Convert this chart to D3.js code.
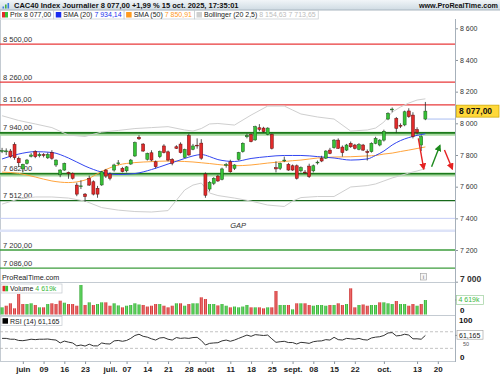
<!DOCTYPE html>
<html>
<head>
<meta charset="utf-8">
<script src="https://cdn.jsdelivr.net/npm/d3@7"></script>
<style>
  body { margin: 0; background: #fff; }
  svg { display: block; font-family: "Liberation Sans", Arial, sans-serif; }
  .lbl { font-size: 7.5px; fill: #333; }
  .pax text { font-size: 7px; fill: #333; }
  .pax line, .tax line { stroke: #8a939c; }
  .tax text { font-size: 8px; font-weight: bold; fill: #222; }
</style>
</head>
<body>
<div id="chart"></div>
<script>
// ---- data ----
var opens = [7822,7820,7825,7867,7779,7712,7747,7792,7821,7795,7803,7782,7815,7737,7675,7705,7690,7684,7610,7600,
  7553,7653,7631,7590,7611,7705,7680,7705,7745,7716,7700,7743,7794,7912,7869,7773,7814,7757,7789,7857,
  7820,7773,7852,7869,7785,7922,7836,7862,7875,7680,7585,7621,7667,7646,7735,7757,7716,7773,7821,7915,
  7930,7895,7972,7970,7930,7930,7720,7716,7765,7741,7732,7732,7700,7692,7730,7700,7750,7779,7780,7831,
  7846,7894,7850,7831,7874,7863,7836,7863,7822,7821,7874,7863,7894,8027,8085,8031,7988,7990,8078,8052,
  7960,7863,8027];
var highs = [7845,7842,7838,7880,7790,7745,7775,7812,7830,7815,7812,7815,7830,7772,7710,7752,7695,7690,7625,7640,
  7560,7670,7640,7605,7700,7712,7690,7745,7768,7725,7730,7775,7885,7925,7875,7815,7830,7765,7828,7868,
  7828,7780,7862,7880,7840,7935,7870,7905,7900,7690,7635,7660,7675,7720,7750,7770,7742,7820,7880,7935,
  7935,7985,7995,7978,7975,7935,7760,7752,7790,7750,7740,7740,7728,7705,7745,7740,7765,7795,7830,7845,
  7900,7905,7860,7870,7885,7870,7875,7870,7835,7880,7915,7900,7960,8070,8100,8040,8000,8080,8095,8070,
  7975,7925,8135];
var lows = [7812,7800,7780,7770,7725,7690,7740,7785,7780,7785,7785,7775,7770,7725,7660,7700,7650,7645,7540,7585,
  7505,7605,7545,7530,7605,7655,7640,7695,7735,7690,7690,7738,7788,7895,7820,7765,7760,7715,7780,7810,
  7760,7735,7838,7810,7780,7795,7830,7840,7770,7530,7570,7610,7630,7640,7720,7688,7705,7765,7815,7905,
  7880,7890,7950,7940,7925,7835,7690,7705,7755,7700,7700,7645,7690,7680,7655,7690,7740,7755,7775,7805,
  7840,7838,7790,7825,7845,7835,7830,7825,7765,7815,7868,7855,7885,8020,8070,7940,7970,7982,8035,7905,
  7930,7825,8020];
var closes = [7828,7826,7789,7783,7751,7741,7768,7800,7789,7803,7797,7803,7779,7768,7705,7747,7683,7653,7553,7605,
  7537,7610,7553,7553,7694,7667,7653,7737,7750,7695,7725,7768,7878,7902,7825,7810,7768,7726,7821,7815,
  7768,7748,7842,7815,7835,7800,7857,7860,7780,7546,7628,7653,7636,7712,7740,7694,7737,7815,7874,7923,
  7884,7979,7962,7947,7970,7842,7712,7747,7768,7705,7705,7653,7720,7688,7663,7732,7755,7762,7825,7810,
  7894,7842,7815,7863,7852,7842,7865,7831,7815,7874,7905,7894,7950,8063,8090,7968,7982,8073,8042,7916,
  7943,7916,8077];
var prevClose = 7734;
// volume, thousands
var volumes = [2290,2800,3570,1970,6530,3340,3340,3570,3030,2290,2290,3340,3570,3340,4400,3760,3340,3340,2800,9400,
  3030,3880,3030,3340,3880,3880,2800,3570,2900,2290,2800,3030,3570,3200,3030,2540,2800,3340,3340,2800,
  2290,2800,3570,3570,2800,3340,3570,3570,5480,4940,3340,3340,2900,3340,2800,2290,2540,2290,2540,3030,
  2290,2290,2290,1970,2290,2290,7490,3030,3030,3030,1650,3570,3570,3570,3030,2800,3030,3030,2800,3030,
  3030,3570,3030,3340,8340,2290,3030,3200,2800,3030,3030,3880,3880,3570,3340,4300,3340,3340,2800,3340,
  2800,3340,4619];
var rsi = [54,54,52,52,49,48.5,50,52,51,52,52,52.5,51,50,43,47.5,45,43,36,38,
  35.5,40,36,36,43,41,40.5,48,49,47,49,54,61,64,59,57,53,50,55,56,
  52,50,56,54,55,54,56,56.5,49,38,42,43,43.6,48,50,47,50,54,58,62,
  59,63,62,61,62,53,44.5,46,47,44,44,40.5,44.5,43.5,42,46,47.5,48,51,50,
  56.6,51,50,54,53,52,54,51,50,55,57,58,61,67,68,60,61,64,62,53,
  53,52,61.165];

// indicators, sampled at these candle indexes
var indIdx = [0,4,8,12,16,20,24,28,32,36,40,44,46,48,50,52,56,60,64,68,70,72,76,80,84,88,90,92,94,96,98,100,102];
var sma20 = [7775,7806,7821,7816,7781,7730,7692,7677,7683,7708,7743,7778,7794,7803,7790,7771,7759,7778,7790,7797,7797,7797,7790,7781,7768,7775,7797,7825,7863,7891,7910,7924,7934.14];
var sma50 = [7692,7684,7661,7636,7626,7642,7696,7737,7752,7758,7762,7759,7756,7751,7746,7740,7732,7737,7749,7759,7764,7768,7781,7787,7789,7794,7797,7806,7812,7822,7831,7841,7850.91];
var bbUp = [8048,8018,7996,7973,7926,7917,7945,7955,7967,7973,7979,7958,7951,7967,7996,7999,7989,8052,8109,8109,8084,8059,8040,8027,7951,7958,7970,8008,8071,8103,8128,8147,8154.63];
var bbLow = [7490,7522,7535,7535,7528,7509,7468,7452,7443,7440,7449,7579,7610,7623,7560,7544,7528,7509,7484,7475,7509,7531,7538,7538,7598,7607,7617,7636,7655,7670,7686,7699,7713.65];

// drawn levels
var redLevels = [8500, 8260, 8116];
var bandLevels = [7940, 7682];
var greenLevels = [7512, 7200, 7086];
var blueLevels = [7400, 7322];
var priceTicks = [8600, 8400, 8200, 8000, 7800, 7600, 7400, 7200, 7000];

// arrows: [candle index, price]
var arrowFrom = [[100.3, 7905], [103.5, 7726], [106.6, 7831]];
var arrowTo = [[101.6, 7712], [105.5, 7860], [108.5, 7712]];

var tickDays = ["2025-06-02","2025-06-09","2025-06-16","2025-06-23","2025-07-01","2025-07-07","2025-07-14","2025-07-21","2025-07-28","2025-08-01",
  "2025-08-11","2025-08-18","2025-08-25","2025-09-01","2025-09-08","2025-09-15","2025-09-22","2025-10-01","2025-10-13","2025-10-20"];
var tickNames = ["juin","09","16","23","juil.","07","14","21","28","août","11","18","25","sept.","08","15","22","oct.","13","20"];

// trading days shown on the axis (chart runs a week past the last candle)
var days = d3.timeDay.range(new Date(2025, 4, 26), new Date(2025, 9, 25))
  .filter(function(d) { return d.getDay() !== 0 && d.getDay() !== 6; });
var dayKey = d3.timeFormat("%Y-%m-%d");
var tickIdx = tickDays.map(function(s) { return days.findIndex(function(d) { return dayKey(d) === s; }); });

var loc = d3.formatLocale({decimal: ",", thousands: " ", grouping: [3], currency: ["", ""]});
var f0 = loc.format(",.0f"), f2 = loc.format(",.2f"), f3 = loc.format(",.3f");

var svg = d3.select("#chart").append("svg").attr("width", 500).attr("height", 375);
var defs = svg.append("defs");

var x = d3.scaleLinear().domain([-0.5, days.length - 0.5]).range([0, 456.5]);
var y = d3.scaleLinear().domain([7000, 8600]).range([281.7, 28.3]);
var yv = d3.scaleLinear().domain([0, 10000]).range([314.5, 283.1]);
var yr = d3.scaleLinear().domain([0, 100]).range([360.8, 319.3]);
var bw = 3;
var last = closes.length - 1;

defs.append("clipPath").attr("id", "clipMain")
  .append("rect").attr("x", 0).attr("y", 19.5).attr("width", 455).attr("height", 262.5);

// header
var hg = defs.append("linearGradient").attr("id", "hdr").attr("x1", 0).attr("y1", 0).attr("x2", 0).attr("y2", 1);
hg.append("stop").attr("offset", 0).attr("stop-color", "#f1f5f8");
hg.append("stop").attr("offset", 1).attr("stop-color", "#cfdbe3");
svg.append("rect").attr("x", 0).attr("y", 0).attr("width", 500).attr("height", 10).attr("fill", "url(#hdr)");
svg.append("line").attr("x1", 0).attr("x2", 500).attr("y1", 10).attr("y2", 10).attr("stroke", "#a9b6c0");
[[2.5, 5, "#3a7be0"], [5, 3, "#43b043"], [7.5, 1.5, "#3a7be0"]].forEach(function(b) {
  svg.append("rect").attr("x", b[0]).attr("y", 1.5 + b[1]).attr("width", 1.6).attr("height", 7 - b[1]).attr("fill", b[2]);
});
svg.append("text").attr("x", 14).attr("y", 7.9).attr("font-size", 7.5).attr("font-weight", "bold").attr("fill", "#111")
  .text("CAC40 Index Journalier 8 077,00 +1,99 % 15 oct. 2025, 17:35:01");
svg.append("text").attr("x", 498).attr("y", 7.9).attr("text-anchor", "end").attr("font-size", 7.2).attr("font-weight", "bold").attr("fill", "#111")
  .text("www.ProRealTime.com");

// frame lines
var grid = svg.append("g").attr("stroke", "#c4cbd2").attr("stroke-width", 1);
grid.append("line").attr("x1", 0.5).attr("x2", 0.5).attr("y1", 19.5).attr("y2", 362);
[282.5, 315.5, 361.5].forEach(function(v) {
  grid.append("line").attr("x1", 0).attr("x2", 455).attr("y1", v).attr("y2", v);
});

var main = svg.append("g").attr("clip-path", "url(#clipMain)");

// horizontal levels
main.selectAll(".blv").data(blueLevels).enter().append("line")
  .attr("x1", 0).attr("x2", 455).attr("y1", function(d) { return y(d); }).attr("y2", function(d) { return y(d); })
  .attr("stroke", function(d, i) { return i === 0 ? "#c3ccf6" : "#dde3f8"; })
  .attr("stroke-width", function(d, i) { return i === 0 ? 1 : 2.5; });

main.selectAll(".rlv").data(redLevels).enter().append("line")
  .attr("x1", 0).attr("x2", 455).attr("y1", function(d) { return y(d); }).attr("y2", function(d) { return y(d); })
  .attr("stroke", "#e8393a").attr("stroke-width", 1.3);

main.selectAll(".bnd").data(bandLevels).enter().append("line")
  .attr("x1", 0).attr("x2", 455).attr("y1", function(d) { return y(d) + 0.8; }).attr("y2", function(d) { return y(d) + 0.8; })
  .attr("stroke", "#a7d9a0").attr("stroke-width", 4);
main.selectAll(".bnd2").data(bandLevels).enter().append("line")
  .attr("x1", 0).attr("x2", 455).attr("y1", function(d) { return y(d); }).attr("y2", function(d) { return y(d); })
  .attr("stroke", "#1c7a1c").attr("stroke-width", 1.6);

main.selectAll(".glv").data(greenLevels).enter().append("line")
  .attr("x1", 0).attr("x2", 455).attr("y1", function(d) { return y(d); }).attr("y2", function(d) { return y(d); })
  .attr("stroke", function(d, i) { return i === 0 ? "#17691a" : "#3c9c3c"; }).attr("stroke-width", 1.4);

main.selectAll(".lvt").data(redLevels.concat(bandLevels, greenLevels)).enter().append("text")
  .attr("class", "lbl").attr("x", 3).attr("y", function(d) { return y(d) - 2.5; })
  .text(function(d) { return f2(d); });

main.append("text").attr("x", x(56.9)).attr("y", y((blueLevels[0] + blueLevels[1]) / 2) + 3)
  .attr("text-anchor", "middle").attr("font-size", 7.5).attr("font-style", "italic").attr("fill", "#333").text("GAP");

// indicators
var lineLin = d3.line().x(function(d, k) { return x(indIdx[k]); }).y(function(d) { return y(d); });
var lineSmooth = d3.line().x(function(d, k) { return x(indIdx[k]); }).y(function(d) { return y(d); }).curve(d3.curveMonotoneX);
main.append("path").attr("d", lineLin(bbUp)).attr("fill", "none").attr("stroke", "#cfcfcf").attr("stroke-width", 1);
main.append("path").attr("d", lineLin(bbLow)).attr("fill", "none").attr("stroke", "#cfcfcf").attr("stroke-width", 1);
main.append("path").attr("d", lineSmooth(sma50)).attr("fill", "none").attr("stroke", "#ffa43c").attr("stroke-width", 1);
main.append("path").attr("d", lineSmooth(sma20)).attr("fill", "none").attr("stroke", "#3346f0").attr("stroke-width", 1);

// candles
var cg = main.append("g").selectAll("g").data(closes).enter().append("g");
cg.append("line")
  .attr("x1", function(d, i) { return x(i); }).attr("x2", function(d, i) { return x(i); })
  .attr("y1", function(d, i) { return y(highs[i]); }).attr("y2", function(d, i) { return y(lows[i]); })
  .attr("stroke", "#2a2a2a").attr("stroke-width", 0.8);
cg.append("rect")
  .attr("x", function(d, i) { return x(i) - bw / 2; }).attr("width", bw)
  .attr("y", function(d, i) { return y(Math.max(opens[i], d)); })
  .attr("height", function(d, i) { return Math.max(0.8, Math.abs(y(opens[i]) - y(d))); })
  .attr("fill", function(d, i) { return d >= opens[i] ? "#36c236" : "#e22a2a"; })
  .attr("stroke", function(d, i) { return d >= opens[i] ? "#1c5a1c" : "#651010"; })
  .attr("stroke-width", 0.5);

// last open line
main.append("line").attr("x1", x(last) + 2).attr("x2", 455)
  .attr("y1", y(opens[last])).attr("y2", y(opens[last])).attr("stroke", "#a9bdf2").attr("stroke-width", 1);

// arrows
["#e52222", "#1e8a1e"].forEach(function(c, k) {
  defs.append("marker").attr("id", "ah" + k).attr("viewBox", "0 0 10 10").attr("refX", 8).attr("refY", 5)
    .attr("markerWidth", 5).attr("markerHeight", 5).attr("markerUnits", "strokeWidth").attr("orient", "auto")
    .append("path").attr("d", "M0,0 L10,5 L0,10 z").attr("fill", c);
});
main.selectAll(".arr").data(arrowFrom).enter().append("line")
  .attr("x1", function(d) { return x(d[0]); }).attr("y1", function(d) { return y(d[1]); })
  .attr("x2", function(d, i) { return x(arrowTo[i][0]); }).attr("y2", function(d, i) { return y(arrowTo[i][1]); })
  .attr("stroke", function(d, i) { return i === 1 ? "#1e8a1e" : "#e52222"; })
  .attr("stroke-width", 1.4)
  .attr("marker-end", function(d, i) { return i === 1 ? "url(#ah1)" : "url(#ah0)"; });

main.append("text").attr("x", 2).attr("y", 280).attr("font-size", 7.2).attr("fill", "#222").text("ProRealTime.com");
main.append("rect").attr("x", 420.5).attr("y", 273.5).attr("width", 6).attr("height", 6.5).attr("fill", "#f6f6f6").attr("stroke", "#9a9a9a").attr("stroke-width", 0.6);
main.append("text").attr("x", 423.5).attr("y", 279).attr("text-anchor", "middle").attr("font-size", 6).attr("fill", "#666").text("i");

// price axis
var pax = svg.append("g").attr("class", "pax").attr("transform", "translate(455,0)")
  .call(d3.axisRight(y).tickValues(priceTicks).tickSize(3).tickPadding(2).tickFormat(f0));
pax.select(".domain").remove();
pax.selectAll(".tick").filter(function(d) { return d === 7000; })
  .select("text").attr("font-weight", "bold").style("font-size", "8.5px").attr("fill", "#111").attr("dy", "-0.05em");
svg.append("line").attr("x1", 455.5).attr("x2", 455.5).attr("y1", 19).attr("y2", 362).attr("stroke", "#a6b0ba");

// last price box
svg.append("rect").attr("x", 456.5).attr("y", y(closes[last]) - 6).attr("width", 42.5).attr("height", 12)
  .attr("fill", "#ffd83a").attr("stroke", "#c9a400").attr("stroke-width", 0.7);
svg.append("text").attr("x", 459).attr("y", y(closes[last]) + 3.2).attr("font-size", 8.5).attr("font-weight", "bold").attr("fill", "#111")
  .text(f2(closes[last]));

// top legend
var leg = svg.append("g");
var legItems = [
  {lab: "Prix " + f2(closes[last]), val: "", col: null, vcol: "#333"},
  {lab: "SMA (20) ", val: f2(sma20[sma20.length - 1]), col: "#1a2cf0", vcol: "#2233ee"},
  {lab: "SMA (50) ", val: f2(sma50[sma50.length - 1]), col: "#ff9a1e", vcol: "#ff9a1e"},
  {lab: "Bollinger (20 2,5) ", val: f2(bbUp[bbUp.length - 1]) + " " + f2(bbLow[bbLow.length - 1]), col: "#cfcfcf", vcol: "#bdbdbd"}
];
var lx = 0.5;
legItems.forEach(function(it, k) {
  var g = leg.append("g");
  var box = g.append("rect").attr("x", lx).attr("y", 10.5).attr("height", 8.5).attr("fill", "#fff").attr("stroke", "#c2c8ce").attr("stroke-width", 0.7);
  if (k === 0) {
    g.append("rect").attr("x", lx + 1.5).attr("y", 12).attr("width", 3).attr("height", 5.5).attr("fill", "#e22a2a");
    g.append("rect").attr("x", lx + 4.5).attr("y", 12).attr("width", 3).attr("height", 5.5).attr("fill", "#36c236");
  } else {
    g.append("rect").attr("x", lx + 2).attr("y", 12).attr("width", 5.5).attr("height", 5.5).attr("fill", it.col);
  }
  var t = g.append("text").attr("x", lx + 9.5).attr("y", 17.3).attr("font-size", 7).attr("fill", "#222");
  t.append("tspan").text(it.lab);
  t.append("tspan").attr("fill", it.vcol).text(it.val);
  var w = t.node().getComputedTextLength() + 12;
  box.attr("width", w);
  lx += w;
});

// volume panel
var vg = defs.append("linearGradient").attr("id", "vgG");
vg.append("stop").attr("offset", 0).attr("stop-color", "#24a024");
vg.append("stop").attr("offset", 0.5).attr("stop-color", "#6ede6e");
vg.append("stop").attr("offset", 1).attr("stop-color", "#24a024");
var vr = defs.append("linearGradient").attr("id", "vgR");
vr.append("stop").attr("offset", 0).attr("stop-color", "#c52424");
vr.append("stop").attr("offset", 0.5).attr("stop-color", "#f07272");
vr.append("stop").attr("offset", 1).attr("stop-color", "#c52424");
svg.append("g").selectAll("rect").data(volumes).enter().append("rect")
  .attr("x", function(d, i) { return x(i) - bw / 2; }).attr("width", bw)
  .attr("y", function(d) { return yv(d); }).attr("height", function(d) { return yv(0) - yv(d); })
  .attr("fill", function(d, i) { var p = i === 0 ? prevClose : closes[i - 1]; return closes[i] >= p ? "url(#vgG)" : "url(#vgR)"; });

var vl = svg.append("g");
vl.append("rect").attr("x", 1).attr("y", 284).attr("width", 61).attr("height", 9).attr("fill", "#fff").attr("fill-opacity", 0.85).attr("stroke", "#c2c8ce").attr("stroke-width", 0.7);
vl.append("rect").attr("x", 2.5).attr("y", 285.8).attr("width", 2.8).attr("height", 5.5).attr("fill", "#e22a2a");
vl.append("rect").attr("x", 5.3).attr("y", 285.8).attr("width", 2.8).attr("height", 5.5).attr("fill", "#36c236");
var vt = vl.append("text").attr("x", 10).attr("y", 291.2).attr("font-size", 7).attr("fill", "#222");
vt.append("tspan").text("Volume ");
vt.append("tspan").attr("fill", "#3cb83c").text(f0(volumes[last]) + "k");

svg.append("line").attr("x1", 455).attr("x2", 458).attr("y1", yv(volumes[last])).attr("y2", yv(volumes[last])).attr("stroke", "#8a939c");
svg.append("rect").attr("x", 456.5).attr("y", yv(volumes[last]) - 4.5).attr("width", 27).attr("height", 9).attr("fill", "#fff").attr("stroke", "#9ccf9c").attr("stroke-width", 0.7);
svg.append("text").attr("x", 458.5).attr("y", yv(volumes[last]) + 2.4).attr("font-size", 7).attr("fill", "#3cb83c").text(f0(volumes[last]) + "k");
svg.append("text").attr("x", 460).attr("y", 313).attr("font-size", 8).attr("font-weight", "bold").attr("fill", "#111").text("0");

// rsi panel
[70, 30].forEach(function(v) {
  svg.append("line").attr("x1", 0).attr("x2", 455).attr("y1", yr(v)).attr("y2", yr(v))
    .attr("stroke", "#b4b4b4").attr("stroke-dasharray", "3,2").attr("stroke-width", 0.8);
});
var rline = d3.line().x(function(d, i) { return x(i); }).y(function(d) { return yr(d); });
svg.append("path").attr("d", rline(rsi)).attr("fill", "none").attr("stroke", "#333").attr("stroke-width", 1);

var rl = svg.append("g");
rl.append("rect").attr("x", 1).attr("y", 316.5).attr("width", 61).attr("height", 9).attr("fill", "#fff").attr("stroke", "#c2c8ce").attr("stroke-width", 0.7);
rl.append("rect").attr("x", 2.5).attr("y", 318.2).attr("width", 5.5).attr("height", 5.5).attr("fill", "#000");
rl.append("text").attr("x", 10).attr("y", 323.6).attr("font-size", 7).attr("fill", "#222").text("RSI (14) " + f3(rsi[last]));

svg.append("text").attr("x", 459).attr("y", yr(100) + 3.5).attr("font-size", 8).attr("font-weight", "bold").attr("fill", "#111").text("100");
svg.append("text").attr("x", 463).attr("y", yr(50) + 6).attr("font-size", 5.5).attr("fill", "#555").text("50");
svg.append("text").attr("x", 460).attr("y", 360).attr("font-size", 8).attr("font-weight", "bold").attr("fill", "#111").text("0");
svg.append("line").attr("x1", 455).attr("x2", 458).attr("y1", yr(rsi[last])).attr("y2", yr(rsi[last])).attr("stroke", "#8a939c");
svg.append("rect").attr("x", 457).attr("y", yr(rsi[last]) - 4.8).attr("width", 26).attr("height", 8.6).attr("fill", "#fff").attr("stroke", "#a8a8a8").attr("stroke-width", 0.7);
svg.append("text").attr("x", 459).attr("y", yr(rsi[last]) + 2.2).attr("font-size", 7).attr("fill", "#222").text(f3(rsi[last]));

// time axis
var tax = svg.append("g").attr("class", "tax").attr("transform", "translate(0,361.5)")
  .call(d3.axisBottom(x).tickValues(tickIdx).tickSize(2.5).tickPadding(2)
    .tickFormat(function(d, i) { return tickNames[i]; }));
tax.select(".domain").remove();
</script>
</body>
</html>
